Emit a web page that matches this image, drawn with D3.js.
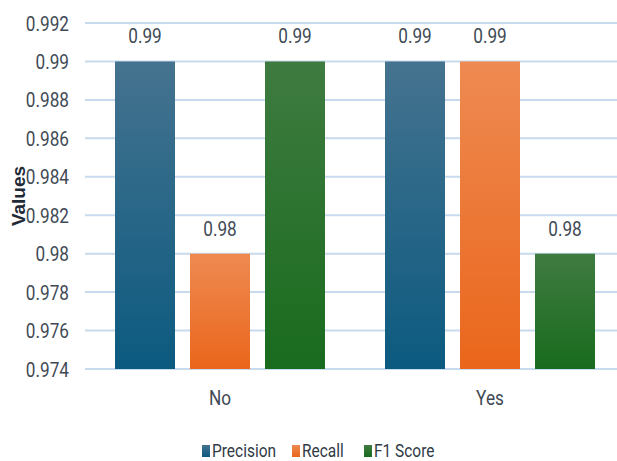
<!DOCTYPE html>
<html>
<head>
<meta charset="utf-8">
<script src="https://cdn.jsdelivr.net/npm/d3@7"></script>
<style>
  html, body { margin: 0; padding: 0; background: #fff; }
  svg { display: block; }
  text { font-family: Roboto, "Liberation Sans", sans-serif; }
</style>
</head>
<body>
<svg id="chart" width="617" height="461"></svg>
<script>
// Classification metrics per class
const classes = ["No", "Yes"];
const metrics = ["Precision", "Recall", "F1 Score"];
const precision = [0.99, 0.99];
const recall = [0.98, 0.99];
const f1Score = [0.99, 0.98];
const yTicks = [0.974, 0.976, 0.978, 0.98, 0.982, 0.984, 0.986, 0.988, 0.99, 0.992];

const seriesValues = [precision, recall, f1Score];
const colors = {
  "Precision": ["#45738f", "#0c5a80"],
  "Recall":    ["#ee8a52", "#ea661b"],
  "F1 Score":  ["#3f7b40", "#196b1e"]
};

// narrow text: horizontal squeeze
const SQ = 0.86;
const FS = 20;

const svg = d3.select("#chart");
const margin = { left: 85, right: -8, top: 23, bottom: 92 };
const width = 617, height = 461;

const x0 = d3.scaleBand().domain(classes).range([margin.left, width - margin.right]).paddingInner(0).paddingOuter(0);
const x1 = d3.scaleBand().domain(metrics).range([30, x0.bandwidth() - 30]).paddingInner(0.2).paddingOuter(0);
const y = d3.scaleLinear().domain([0.974, 0.992]).range([height - margin.bottom, margin.top]);

function narrowText(sel, x, yy) {
  sel.attr("x", 0).attr("y", 0)
    .attr("transform", d => `translate(${typeof x === "function" ? x(d) : x},${typeof yy === "function" ? yy(d) : yy}) scale(${SQ},1)`);
}

// gradients
const defs = svg.append("defs");
metrics.forEach((m, i) => {
  const g = defs.append("linearGradient").attr("id", "grad" + i)
    .attr("x1", 0).attr("y1", 0).attr("x2", 0).attr("y2", 1);
  g.append("stop").attr("offset", "0%").attr("stop-color", colors[m][0]);
  g.append("stop").attr("offset", "100%").attr("stop-color", colors[m][1]);
});

// gridlines
svg.append("g")
  .selectAll("line").data(yTicks).join("line")
  .attr("x1", margin.left).attr("x2", width)
  .attr("y1", d => y(d)).attr("y2", d => y(d))
  .attr("stroke", "#c8dbee").attr("stroke-width", 2);

// y axis tick labels
const yAxis = d3.axisLeft(y).tickValues(yTicks).tickFormat(d => String(+d.toFixed(3))).tickSize(0).tickPadding(0);
const gy = svg.append("g").attr("transform", `translate(${margin.left},0)`).call(yAxis);
gy.select(".domain").remove();
gy.selectAll("text")
  .attr("font-size", FS).attr("fill", "#3f4a55")
  .attr("dy", null)
  .call(narrowText, -16, 7);

// y axis title
svg.append("text")
  .attr("transform", "translate(25,196) rotate(-90)")
  .attr("text-anchor", "middle")
  .attr("font-size", 19).attr("font-weight", "bold").attr("fill", "#1f2a36")
  .style("font-family", '"Liberation Sans", Arial, sans-serif')
  .text("Values");

// bars
const rows = [];
classes.forEach((c, ci) => metrics.forEach((m, mi) => rows.push({ cls: c, metric: m, mi, value: seriesValues[mi][ci] })));

const groups = svg.append("g");
groups.selectAll("rect").data(rows).join("rect")
  .attr("x", d => x0(d.cls) + x1(d.metric))
  .attr("width", x1.bandwidth())
  .attr("y", d => y(d.value))
  .attr("height", d => y(0.974) - y(d.value))
  .attr("fill", d => `url(#grad${d.mi})`);

// value labels
groups.selectAll("text.val").data(rows).join("text")
  .attr("class", "val")
  .attr("text-anchor", "middle")
  .attr("font-size", FS).attr("fill", "#3f4a55")
  .text(d => d3.format(".2f")(d.value))
  .call(narrowText, d => x0(d.cls) + x1(d.metric) + x1.bandwidth() / 2, d => y(d.value) - 18);

// category labels
svg.append("g").selectAll("text").data(classes).join("text")
  .attr("text-anchor", "middle")
  .attr("font-size", FS).attr("fill", "#3f4a55")
  .text(d => d)
  .call(narrowText, d => x0(d) + x0.bandwidth() / 2, 405);

// legend
const legendItems = [
  { m: "Precision", x: 202 },
  { m: "Recall", x: 292 },
  { m: "F1 Score", x: 364 }
];
const lg = svg.append("g");
legendItems.forEach((it, i) => {
  lg.append("rect").attr("x", it.x).attr("y", 445).attr("width", 8).attr("height", 12)
    .attr("fill", `url(#grad${i})`);
  lg.append("text")
    .attr("font-size", FS - 2).attr("fill", "#2f3a45")
    .text(it.m)
    .call(narrowText, it.x + 10, 457);
});
</script>
</body>
</html>
